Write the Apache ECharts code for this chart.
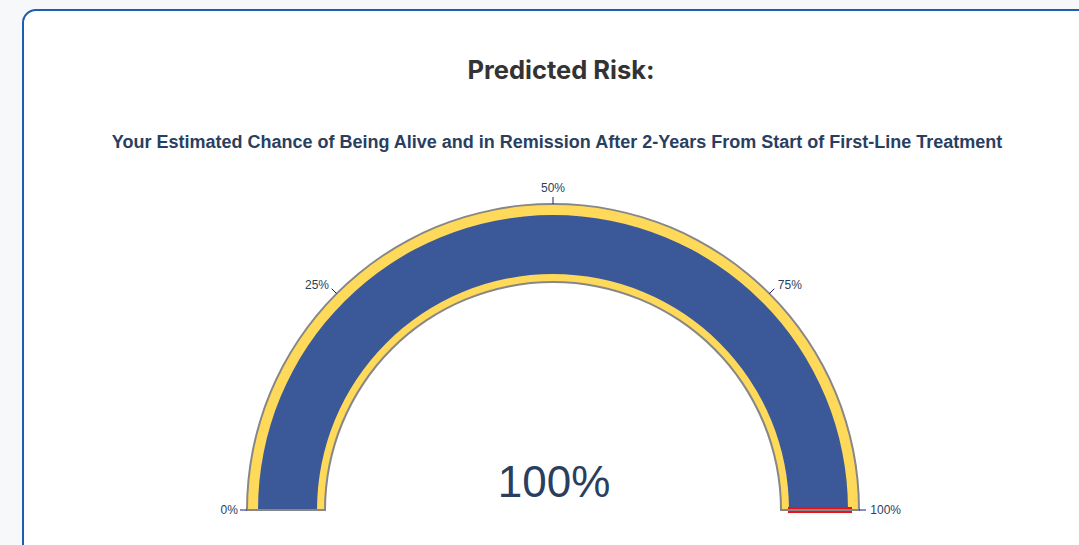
<!DOCTYPE html>
<html>
<head>
<meta charset="utf-8">
<script src="https://cdn.jsdelivr.net/npm/echarts@6/dist/echarts.min.js"></script>
<style>
  html, body { margin: 0; padding: 0; width: 1079px; height: 545px; overflow: hidden; background: #f6f8fa; }
  #card { position: absolute; left: 22px; top: 9px; width: 1120px; height: 600px; box-sizing: border-box;
          border: 2px solid #1c5fae; border-radius: 14px; background: #ffffff; }
  #chart { position: absolute; left: 0; top: 0; width: 1079px; height: 545px; }
</style>
</head>
<body>
<div id="card"></div>
<div id="chart"></div>
<script>
const titleText = 'Predicted Risk:';
const subtitleText = 'Your Estimated Chance of Being Alive and in Remission After 2-Years From Start of First-Line Treatment';
const gaugeValue = [100];
const thresholdValue = [100];
const axisMin = 0;
const axisMax = 100;
const tickLabels = ['0%', '25%', '50%', '75%', '100%'];

const C = [553, 510];
const navy = '#2a3f5f';
const gray = '#878787';
const yellow = '#ffd95a';
const blue = '#3b5998';
const FONT = '"Liberation Sans", Arial, sans-serif';

const chart = echarts.init(document.getElementById('chart'), null, { renderer: 'svg' });

const base = {
  type: 'gauge', center: C, min: axisMin, max: axisMax,
  startAngle: 180, endAngle: 0, splitNumber: 4,
  pointer: { show: false }, anchor: { show: false }, title: { show: false },
  detail: { show: false }, axisTick: { show: false }, splitLine: { show: false },
  axisLabel: { show: false }, progress: { show: false }, silent: true
};

// one label series per tick label, so each can sit at its own distance
const labelRadius = [332.5, 350.7, 328, 352, 348];
const labelPadTop = [0, 45, 0, 48, 0];
function labelSeries(idx) {
  return Object.assign({}, base, { radius: labelRadius[idx], data: [{ value: gaugeValue[0] }],
    axisLine: { show: false, lineStyle: { width: 0 } },
    splitLine: { show: false, length: 0, distance: 0 },
    axisLabel: { show: true, distance: 0, fontFamily: FONT, fontSize: 12, color: navy,
      formatter: function (v) {
        const i = Math.round((v - axisMin) / (axisMax - axisMin) * 4);
        return i === idx ? '{t|' + tickLabels[i] + '}' : '';
      },
      rich: { t: { padding: [labelPadTop[idx], 0, 0, 0], fontSize: 12, color: navy, fontFamily: FONT } } }
  });
}

const series = [
  // gray border ring
  Object.assign({}, base, { radius: 307, data: [{ value: gaugeValue[0] }],
    axisLine: { lineStyle: { width: 80, color: [[1, gray]] } } }),
  // yellow background
  Object.assign({}, base, { radius: 305, data: [{ value: gaugeValue[0] }],
    axisLine: { lineStyle: { width: 76, color: [[1, yellow]] } } }),
  // blue value bar
  Object.assign({}, base, { radius: 295, data: [{ value: gaugeValue[0] }],
    axisLine: { show: false, lineStyle: { width: 59 } },
    progress: { show: true, width: 59, roundCap: false, itemStyle: { color: blue } } }),
  // threshold line
  Object.assign({}, base, { radius: 299, startAngle: 0, endAngle: -0.01, splitNumber: 1,
    data: [{ value: thresholdValue[0] }],
    axisLine: { show: false, lineStyle: { width: 0 } },
    splitLine: { show: true, length: 64, distance: 0, lineStyle: { color: '#e8141b', width: 6, cap: 'butt' } } }),
  // bottom gray border lines at both ends
  Object.assign({}, base, { radius: 307, splitNumber: 1, data: [{ value: gaugeValue[0] }],
    axisLine: { show: false, lineStyle: { width: 0 } },
    splitLine: { show: true, length: 80, distance: 0, lineStyle: { color: gray, width: 2 } } }),
  // outer ticks
  Object.assign({}, base, { radius: 313, data: [{ value: gaugeValue[0] }],
    axisLine: { show: false, lineStyle: { width: 0 } },
    splitLine: { show: true, length: 7, distance: 0, lineStyle: { color: '#1a1a8c', width: 1 } } }),
  // centre value
  Object.assign({}, base, { radius: 306, data: [{ value: gaugeValue[0] }],
    axisLine: { show: false, lineStyle: { width: 0 } },
    detail: { show: true, offsetCenter: [1, -29], formatter: '{value}%',
      fontFamily: FONT, fontSize: 44, fontWeight: 400, color: navy } })
];
for (let k = 0; k < tickLabels.length; k++) series.push(labelSeries(k));

const option = {
  animation: false,
  title: [
    { text: titleText, left: 556, top: 51, textAlign: 'center',
      textStyle: { fontFamily: 'Inter, "Liberation Sans", sans-serif', fontSize: 25.5, fontWeight: 700, color: '#333333' } },
    { text: subtitleText, left: 552, top: 128, textAlign: 'center',
      textStyle: { fontFamily: FONT, fontSize: 18, fontWeight: 700, color: navy } }
  ],
  series: series
};
chart.setOption(option);
</script>
</body>
</html>
